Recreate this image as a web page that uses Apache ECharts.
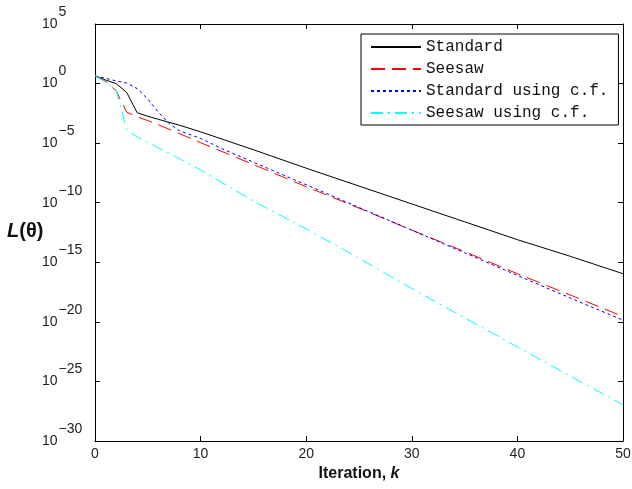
<!DOCTYPE html>
<html>
<head>
<meta charset="utf-8">
<title>L(theta) vs iteration</title>
<script src="https://cdn.jsdelivr.net/npm/echarts@6/dist/echarts.min.js"></script>
<style>
  html, body { margin: 0; padding: 0; background: #fff; }
  #chart { width: 632px; height: 489px; }
</style>
</head>
<body>
<div id="chart"></div>
<script>
// values
var seriesNames = ['Standard', 'Seesaw', 'Standard using c.f.', 'Seesaw using c.f.'];

var kStandard = [0, 1, 2, 3, 4, 5, 6, 8, 10, 15, 20, 25, 30, 35, 40, 45, 50];
var lStandard = [4.4, 2.0, 1.0, 1.8e-1, 3.5e-3, 1.8e-3, 1.0e-3, 3.2e-4, 8.9e-5, 2.8e-6, 7.9e-8, 2.5e-9, 7.9e-11, 2.5e-12, 7.9e-14, 3.2e-15, 1.1e-16];

var kSeesaw = [0, 1, 2, 3, 4, 5, 6, 8, 10, 15, 20, 25, 30, 35, 40, 45, 50];
var lSeesaw = [4.4, 1.5, 2.5e-1, 4.0e-3, 1.6e-3, 7.9e-4, 3.5e-4, 6.3e-5, 1.1e-5, 1.6e-7, 2.2e-9, 3.5e-11, 5.0e-13, 7.9e-15, 1.1e-16, 1.8e-18, 2.8e-20];

var kStandardCf = [0, 1, 2, 3, 4, 5, 6, 7, 8, 10, 12, 15, 20, 25, 30, 35, 40, 45, 50];
var lStandardCf = [4.4, 2.8, 1.66, 1.12, 3.8e-1, 5.0e-2, 4.0e-3, 4.5e-4, 1.1e-4, 2.5e-5, 3.5e-6, 2.5e-7, 3.2e-9, 4.0e-11, 5.0e-13, 6.3e-15, 7.9e-17, 1.0e-18, 1.4e-20];

var kSeesawCf = [0, 1, 2, 3, 4, 6, 8, 10, 15, 20, 25, 30, 35, 40, 45, 50];
var lSeesawCf = [4.4, 1.4, 2.8e-1, 1.4e-4, 3.2e-5, 4.0e-6, 5.0e-7, 5.6e-8, 1.4e-10, 6.3e-13, 2.2e-15, 6.3e-18, 2.2e-20, 7.9e-23, 2.8e-25, 1.1e-27];

// decade exponents of the y ticks (10^5 ... 10^-30, step 5)
var yExpMin = -30, yExpMax = 5, yExpStep = 5;

function pairs(ks, ls) {
  var out = [];
  for (var i = 0; i < ks.length; i++) out.push([ks[i], ls[i]]);
  return out;
}

// y tick labels as 10^n (n is the tick of the exponent axis)
function expLabel(n) {
  var s = n < 0 ? '\u2212' + (-n) : String(n);
  return '{b|10}{e|' + s + '}';
}

var tickFont = { fontFamily: 'Liberation Sans', fontSize: 14, color: '#222' };
var axisLineStyle = { onZero: false, lineStyle: { color: '#000', width: 1 } };
var tickIn = { inside: true, length: 5, lineStyle: { color: '#000' } };

var myChart = echarts.init(document.getElementById('chart'));
var option = {
  animation: false,
  backgroundColor: '#fff',
  // y axis title, kept horizontal like the original
  title: {
    text: '{i|L}{b|(\u03b8)}',
    left: 7,
    top: 221,
    padding: 0,
    textStyle: {
      rich: {
        i: { fontFamily: 'Liberation Sans', fontSize: 20, fontWeight: 'bold', fontStyle: 'italic', color: '#111' },
        b: { fontFamily: 'Liberation Sans', fontSize: 20, fontWeight: 'bold', color: '#111' }
      }
    }
  },
  grid: { left: 95, right: 9, top: 24, bottom: 48, containLabel: false, outerBoundsMode: 'none' },
  legend: {
    orient: 'vertical',
    left: 361,
    top: 34,
    padding: [5, 10, 4, 9],
    itemWidth: 50,
    itemHeight: 14,
    itemGap: 6,
    borderColor: '#000',
    borderWidth: 1,
    backgroundColor: '#fff',
    itemStyle: { opacity: 0 },
    textStyle: { fontFamily: 'Liberation Mono', fontSize: 16, color: '#111' },
    data: seriesNames
  },
  xAxis: [{
    type: 'value',
    min: 0, max: 50, interval: 10,
    name: '{b|Iteration, }{i|k}',
    nameLocation: 'middle',
    nameGap: 21,
    nameTextStyle: {
      rich: {
        b: { fontFamily: 'Liberation Sans', fontSize: 16, fontWeight: 'bold', color: '#111' },
        i: { fontFamily: 'Liberation Sans', fontSize: 16, fontWeight: 'bold', fontStyle: 'italic', color: '#111' }
      }
    },
    axisLine: axisLineStyle,
    axisTick: tickIn,
    axisLabel: Object.assign({ margin: 6 }, tickFont),
    splitLine: { show: false }
  }, {
    type: 'value',
    position: 'top',
    min: 0, max: 50, interval: 10,
    axisLine: axisLineStyle,
    axisTick: tickIn,
    axisLabel: { show: false },
    splitLine: { show: false }
  }],
  yAxis: [{
    // left: decade ticks and labels
    type: 'value',
    min: yExpMin, max: yExpMax, interval: yExpStep,
    axisLine: axisLineStyle,
    axisTick: tickIn,
    axisLabel: {
      margin: 53,
      align: 'left',
      formatter: expLabel,
      rich: {
        b: { fontFamily: 'Liberation Sans', fontSize: 14, color: '#222', lineHeight: 14 },
        e: { fontFamily: 'Liberation Sans', fontSize: 14, color: '#222', lineHeight: 14, padding: [0, 0, 24, 1] }
      }
    },
    splitLine: { show: false }
  }, {
    // log scale the curves are drawn on
    type: 'log',
    logBase: 10,
    show: false,
    min: Math.pow(10, yExpMin), max: Math.pow(10, yExpMax),
    splitLine: { show: false }
  }, {
    // right box edge
    type: 'value',
    position: 'right',
    min: yExpMin, max: yExpMax, interval: yExpStep,
    axisLine: axisLineStyle,
    axisTick: tickIn,
    axisLabel: { show: false },
    splitLine: { show: false }
  }],
  series: [{
    name: seriesNames[0],
    type: 'line',
    yAxisIndex: 1,
    symbol: 'none',
    data: pairs(kStandard, lStandard),
    lineStyle: { color: '#000', width: 1, type: 'solid' },
    itemStyle: { color: '#000' }
  }, {
    name: seriesNames[1],
    type: 'line',
    yAxisIndex: 1,
    symbol: 'none',
    data: pairs(kSeesaw, lSeesaw),
    lineStyle: { color: '#ff0000', width: 1, type: [14, 7] },
    itemStyle: { color: '#ff0000' }
  }, {
    name: seriesNames[2],
    type: 'line',
    yAxisIndex: 1,
    symbol: 'none',
    data: pairs(kStandardCf, lStandardCf),
    lineStyle: { color: '#0000ff', width: 1, type: [3, 3] },
    itemStyle: { color: '#0000ff' }
  }, {
    name: seriesNames[3],
    type: 'line',
    yAxisIndex: 1,
    symbol: 'none',
    data: pairs(kSeesawCf, lSeesawCf),
    lineStyle: { color: '#00ffff', width: 1, type: [12, 5, 2, 5] },
    itemStyle: { color: '#00ffff' }
  }]
};
myChart.setOption(option);
</script>
</body>
</html>
